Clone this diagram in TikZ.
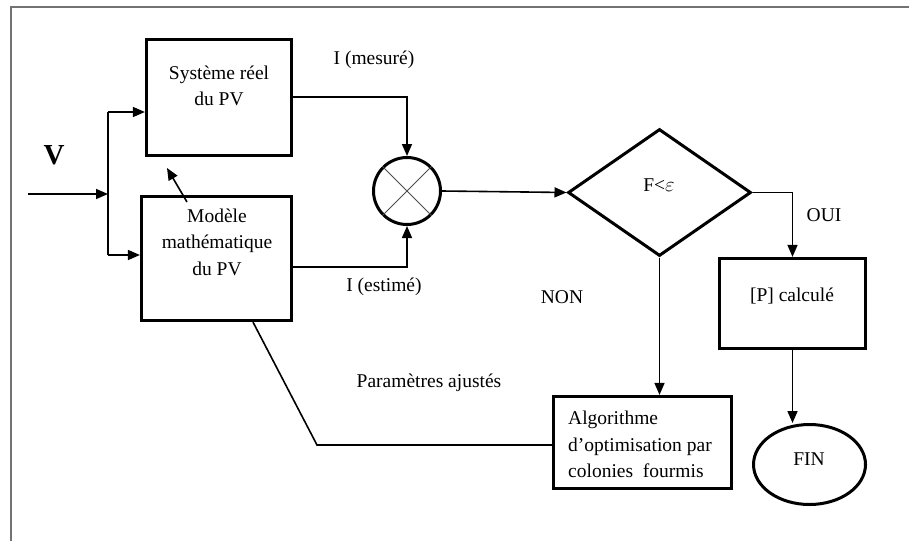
\documentclass[tikz,border=0pt]{standalone}
\usepackage{fontspec}
\setmainfont{Liberation Serif}
\usetikzlibrary{arrows.meta,shapes.geometric}
\begin{document}
\begin{tikzpicture}[x=1pt,y=-1pt,
  box/.style={draw,line width=3.2pt,inner sep=0pt},
  conn/.style={line width=1.6pt},
  arr/.style={conn,-{Triangle[length=12pt,width=10pt]}},
  txt/.style={font=\fontsize{19.5}{26.5}\selectfont,inner sep=0pt,align=center},
  frame/.style={draw=black!55,line width=2pt}]
\useasboundingbox (0,0) rectangle (909,541);
% frame
\draw[frame] (11,541) -- (11,7) -- (909,7);
% blocks
\node[box,minimum width=145pt,minimum height=116pt] (sys) at (219,97.5) {};
\node[box,minimum width=150pt,minimum height=124pt] (mod) at (216.5,258.5) {};
\node[circle,draw,line width=3pt,minimum size=67pt,inner sep=0pt] (sum) at (407,191) {};
\draw[line width=0.8pt,black!70] (sum.45) -- (sum.225) (sum.135) -- (sum.315);
\node[diamond,draw,line width=3pt,minimum width=183pt,minimum height=127pt,inner sep=0pt] (dia) at (659.5,192.5) {};
\node[box,minimum width=146pt,minimum height=90pt] (P) at (792.5,303.5) {};
\node[box,minimum width=178pt,minimum height=92pt] (algo) at (642.5,442.5) {};
\node[ellipse,draw,line width=3pt,minimum width=112pt,minimum height=80pt,inner sep=0pt] (fin) at (809.5,464.5) {};
% texts
\node[txt] (tsys) at (219,86) {Système réel\\du PV};
\node[txt] (tmod) at (217,242) {Modèle\\mathématique\\du PV};
\node[txt] (tdia) at (659,185) {F<$\varepsilon$};
\node[txt] (tP) at (792,296) {[P] calculé};
\node[txt] (tfin) at (809,459) {FIN};
\node[txt,align=left,anchor=west] (talgo) at (568,444.5) {Algorithme\\d’optimisation par\\colonies\ \ fourmis};
\node[txt,font=\fontsize{29}{30}\selectfont\bfseries] (V) at (54,155) {V};
\node[txt] (lmes) at (374,60) {I (mesuré)};
\node[txt] (lest) at (384,287) {I (estimé)};
\node[txt] (lpar) at (429,383) {Paramètres ajustés};
\node[txt] (lnon) at (562,297) {NON};
\node[txt] (loui) at (824,215) {OUI};
% input connections
\coordinate (in) at (28,194);
\coordinate (j) at (108,194);
\coordinate (jt) at (108,112);
\coordinate (jb) at (108,255);
\draw[arr] (in) -- (j);
\draw[conn] (jt) -- (jb);
\draw[arr] (jt) -- (jt -| sys.west);
\draw[arr] (jb) -- (jb -| mod.west);
% small arrow model -> system
\coordinate (a1) at (187,202);
\coordinate (a2) at (167,168);
\draw[arr] (a1) -- (a2);
% currents
\coordinate (ym) at (0,97);
\coordinate (ye) at (0,267);
\draw[arr] (sys.east |- ym) -| (sum.north);
\draw[arr] ([xshift=-3pt]mod.east |- ye) -| (sum.south);
% flow
\draw[arr] (sum.east) -- (dia.west);
\draw[arr] (dia.east) -| (P.north);
\draw[arr] (dia.south) -- (dia.south |- algo.north);
\draw[arr] (P.south) -- (P.south |- fin.north);
% feedback
\coordinate (k) at (317,445);
\coordinate (m1) at (253,0);
\draw[conn] (algo.west |- k) -- (k) -- (mod.south -| m1);
\end{tikzpicture}
\end{document}
